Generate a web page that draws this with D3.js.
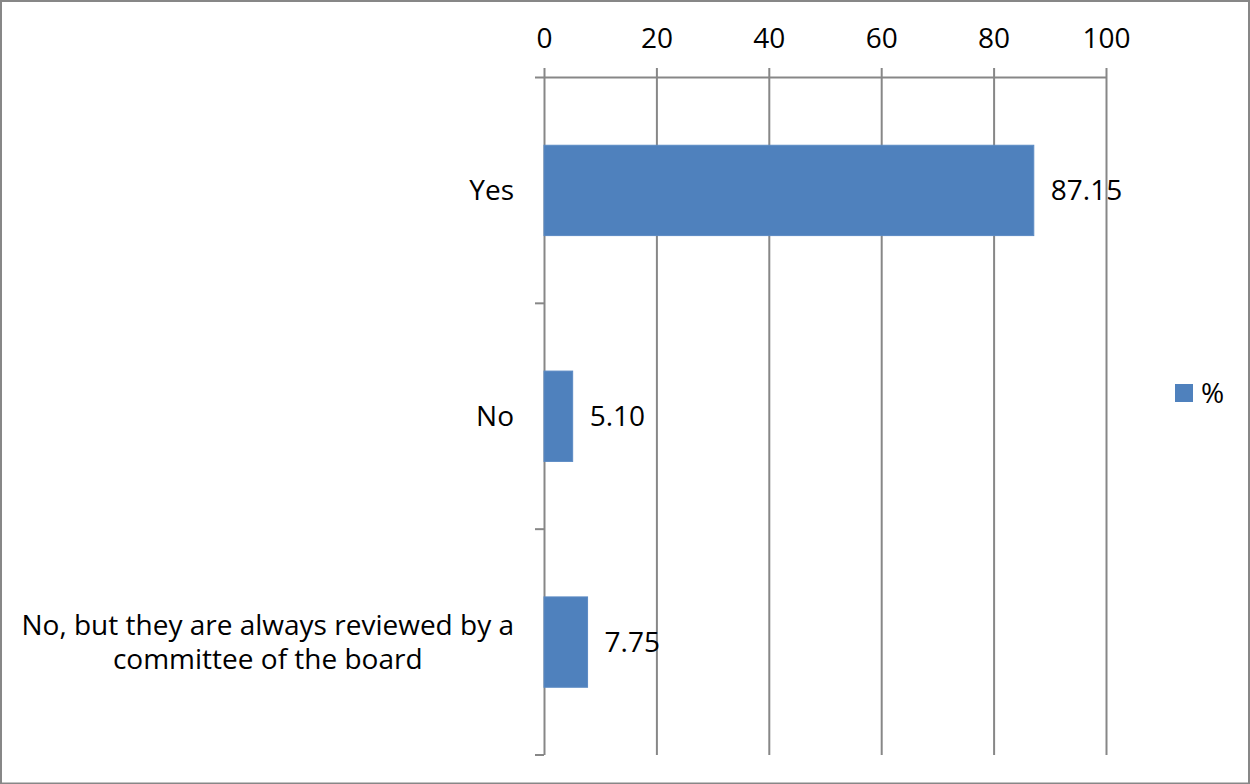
<!DOCTYPE html>
<html>
<head>
<meta charset="utf-8">
<script src="https://cdn.jsdelivr.net/npm/d3@7"></script>
<style>
  html, body { margin: 0; padding: 0; background: #fff; }
  svg { display: block; }
  text { font-family: "Open Sans", "DejaVu Sans", sans-serif; fill: #000; }
</style>
</head>
<body>
<svg id="chart" width="1250" height="784"></svg>
<script>
// Survey answers and their share of respondents (%)
const categories = [
  "Yes",
  "No",
  "No, but they are always reviewed by a committee of the board"
];
const values = [87.15, 5.10, 7.75];
const valueLabels = ["87.15", "5.10", "7.75"];
const xTicks = [0, 20, 40, 60, 80, 100];
const seriesName = "%";

const W = 1250, H = 784;
const plot = { left: 544, right: 1106, top: 77.5, bottom: 755 };
const barColor = "#4f81bd";
const gridColor = "#878787";
const fontSize = 28;

const svg = d3.select("#chart");

// outer frame
svg.append("rect")
  .attr("x", 1).attr("y", 1)
  .attr("width", W - 2).attr("height", H - 1.5)
  .attr("fill", "#fff")
  .attr("stroke", "#878787").attr("stroke-width", 2);

const x = d3.scaleLinear().domain([0, 100]).range([plot.left, plot.right]);

// bars sit in the middle of each category slot
const y = d3.scaleBand()
  .domain(categories)
  .range([plot.top, plot.bottom])
  .paddingInner(0.6)
  .paddingOuter(0.3);

// category slot boundaries (for the tick marks on the value-zero axis)
const slot = d3.scaleBand().domain(categories).range([plot.top, plot.bottom]).padding(0);
const slotEdges = categories.map(c => slot(c)).concat([plot.bottom]);

// vertical gridlines with ticks above the top axis
const xAxis = d3.axisTop(x)
  .tickValues(xTicks)
  .tickSize(-(plot.bottom - plot.top))
  .tickSizeOuter(0)
  .tickFormat(d3.format("d"));

const gx = svg.append("g")
  .attr("transform", `translate(0,${plot.top})`)
  .call(xAxis);
gx.select(".domain").remove();
gx.selectAll(".tick line")
  .attr("stroke", gridColor).attr("stroke-width", 2)
  .attr("y1", -9.5);
gx.selectAll(".tick text")
  .attr("font-size", fontSize)
  .attr("font-family", "'Open Sans', sans-serif")
  .attr("fill", "#000")
  .attr("y", -30)
  .attr("dy", 0);

// top axis line
svg.append("line")
  .attr("x1", plot.left - 9).attr("x2", plot.right)
  .attr("y1", plot.top).attr("y2", plot.top)
  .attr("stroke", gridColor).attr("stroke-width", 2);

// category tick marks to the left of the zero line
svg.append("g").selectAll("line")
  .data(slotEdges.slice(1))
  .join("line")
  .attr("x1", plot.left - 9).attr("x2", plot.left)
  .attr("y1", d => d).attr("y2", d => d)
  .attr("stroke", gridColor).attr("stroke-width", 2);

// bars
svg.append("g").selectAll("rect")
  .data(categories)
  .join("rect")
  .attr("x", x(0))
  .attr("y", d => y(d))
  .attr("width", (d, i) => x(values[i]) - x(0))
  .attr("height", y.bandwidth())
  .attr("fill", barColor)
  .attr("stroke", "#5b8ac4").attr("stroke-width", 1);

// value labels
svg.append("g").selectAll("text")
  .data(categories)
  .join("text")
  .attr("x", (d, i) => x(values[i]) + 17)
  .attr("y", d => y(d) + y.bandwidth() / 2 + 10)
  .attr("font-size", fontSize)
  .text((d, i) => valueLabels[i]);

// category labels, wrapped to the space left of the plot
const labelRight = plot.left - 30;
const maxLabelWidth = 500;
const lineHeight = 34;
const catG = svg.append("g");
categories.forEach(cat => {
  const t = catG.append("text")
    .attr("text-anchor", "middle")
    .attr("font-size", fontSize);
  // greedy word wrap
  const words = cat.split(" ");
  const lines = [];
  let cur = [];
  const probe = svg.append("text").attr("font-size", fontSize);
  words.forEach(w => {
    const trial = cur.concat([w]).join(" ");
    probe.text(trial);
    if (cur.length && probe.node().getComputedTextLength() > maxLabelWidth) {
      lines.push(cur.join(" "));
      cur = [w];
    } else {
      cur.push(w);
    }
  });
  lines.push(cur.join(" "));
  // width of the widest line, so multi-line labels centre under each other
  let widest = 0;
  lines.forEach(l => { probe.text(l); widest = Math.max(widest, probe.node().getComputedTextLength()); });
  probe.remove();
  const cx = labelRight - widest / 2;
  const mid = y(cat) + y.bandwidth() / 2;
  const firstBase = mid + 10 - (lines.length - 1) * lineHeight / 2;
  lines.forEach((l, i) => {
    t.append("tspan").attr("x", cx).attr("y", firstBase + i * lineHeight).text(l);
  });
});

// legend
const lg = svg.append("g");
lg.append("rect")
  .attr("x", 1175).attr("y", 384).attr("width", 18).attr("height", 18)
  .attr("fill", barColor);
lg.append("text")
  .attr("x", 1201).attr("y", 403)
  .attr("font-size", fontSize)
  .text(seriesName);
</script>
</body>
</html>
